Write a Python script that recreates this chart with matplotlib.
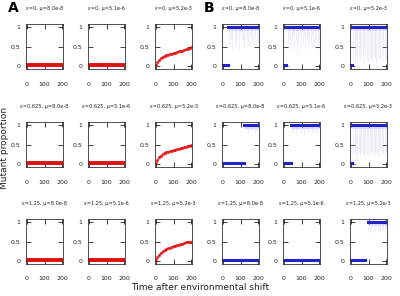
import matplotlib.pyplot as plt
import numpy as np

# titulos de los paneles
epsilons = ["0", "0.625", "1.25"]
mus = ["8.0e-8", "5.1e-6", "5.2e-3"]

# curva roja (mu=5.2e-3), tiempos cada 10
t_red = np.arange(0, 201, 10)
red_curves = {
    "0": [0.02, 0.10, 0.15, 0.20, 0.24, 0.26, 0.28, 0.30, 0.31, 0.32, 0.34,
          0.35, 0.36, 0.38, 0.39, 0.40, 0.42, 0.43, 0.44, 0.46, 0.48],
    "0.625": [0.02, 0.12, 0.18, 0.22, 0.26, 0.30, 0.31, 0.32, 0.33, 0.35, 0.36,
              0.37, 0.38, 0.40, 0.41, 0.42, 0.43, 0.45, 0.46, 0.47, 0.49],
    "1.25": [0.02, 0.10, 0.16, 0.21, 0.25, 0.28, 0.31, 0.33, 0.35, 0.37, 0.38,
             0.40, 0.41, 0.42, 0.44, 0.45, 0.46, 0.48, 0.49, 0.50, 0.50],
}
red_spread = [0.02, 0.05, 0.06, 0.06, 0.05, 0.05, 0.05, 0.04, 0.04, 0.04, 0.04,
              0.04, 0.04, 0.04, 0.04, 0.04, 0.04, 0.04, 0.04, 0.04, 0.04]
red_flat = 0.02

# paneles azules: momento del cambio 0 -> 1 (None = sin cambio)
blue_switch = {
    ("0", "8.0e-8"): (30, 32), ("0", "5.1e-6"): (12, 14), ("0", "5.2e-3"): (6, 8),
    ("0.625", "8.0e-8"): (118, 122), ("0.625", "5.1e-6"): (40, 42), ("0.625", "5.2e-3"): (6, 8),
    ("1.25", "8.0e-8"): (200, None), ("1.25", "5.1e-6"): (200, None), ("1.25", "5.2e-3"): (80, 95),
}
# caidas tenues de replicas
dip_t = [14, 22, 30, 37, 45, 52, 60, 68, 75, 83, 91, 98, 106, 113, 121, 129,
         136, 144, 151, 159, 167, 174, 182, 190, 197]
blue_dips = {
    ("0", "8.0e-8"): [1, 1, 1, 0.55, 0.7, 0.4, 0.8, 0.6, 0.5, 0.75, 0.45, 0.85, 0.6,
                      0.7, 0.5, 0.8, 0.65, 0.55, 0.8, 0.6, 0.7, 0.5, 0.75, 0.65, 0.6],
    ("0", "5.1e-6"): [1, 0.5, 0.7, 0.4, 0.6, 0.8, 0.5, 0.7, 0.3, 0.6, 0.75, 0.45, 0.6,
                      0.8, 0.5, 0.65, 0.4, 0.7, 0.55, 0.8, 0.5, 0.6, 0.7, 0.45, 0.6],
    ("0", "5.2e-3"): [0.2, 0.1, 0.3, 0.15, 0.2, 0.1, 0.25, 0.1, 0.3, 0.15, 0.2, 0.1, 0.2,
                      0.15, 0.1, 0.3, 0.2, 0.1, 0.25, 0.15, 0.2, 0.1, 0.3, 0.2, 0.15],
    ("0.625", "8.0e-8"): [1, 1, 1, 1, 1, 1, 1, 1, 1, 1, 1, 1, 1, 1, 1, 0.85,
                          0.9, 0.8, 0.9, 0.85, 0.9, 0.8, 0.9, 0.85, 0.9],
    ("0.625", "5.1e-6"): [1, 1, 1, 1, 0.8, 0.85, 0.9, 0.75, 0.85, 0.9, 0.8, 0.85, 0.9,
                          0.75, 0.85, 0.9, 0.8, 0.85, 0.9, 0.8, 0.85, 0.9, 0.8, 0.85, 0.9],
    ("0.625", "5.2e-3"): [0.2, 0.3, 0.15, 0.25, 0.3, 0.2, 0.35, 0.25, 0.2, 0.3, 0.25, 0.2, 0.3,
                          0.25, 0.35, 0.2, 0.3, 0.25, 0.2, 0.3, 0.35, 0.25, 0.3, 0.2, 0.3],
    ("1.25", "8.0e-8"): None,
    ("1.25", "5.1e-6"): None,
    ("1.25", "5.2e-3"): [1, 1, 1, 1, 1, 1, 1, 1, 1, 1, 1, 0.8, 0.75, 0.8, 0.85, 0.8,
                         0.75, 0.85, 0.8, 0.8, 0.75, 0.85, 0.8, 0.8, 0.85],
}

red = "#e01010"
pink = "#f6a8a8"
blue = "#2222cc"
light_blue = "#b0b0f4"

fig = plt.figure(figsize=(4, 2.96), dpi=100)

col_left = [26, 88, 155, 222, 283, 350]
row_top = [24, 122, 219]
w, h = 37, 45


def style_axis(ax, titulo):
    ax.set_xlim(-4, 204)
    ax.set_ylim(-0.07, 1.08)
    ax.set_xticks([0, 100, 200])
    ax.set_yticks([0, 0.5, 1])
    ax.set_yticklabels(["0", "0.5", "1"])
    ax.tick_params(direction="in", length=3.5, width=0.6, labelsize=4.5,
                   top=True, right=True, colors="#222222")
    ax.tick_params(axis="x", pad=9)
    ax.tick_params(axis="y", pad=4)
    for s in ax.spines.values():
        s.set_linewidth(0.6)
        s.set_color("#333333")
    ax.set_title(titulo, fontsize=3.6, pad=10, color="#222222")


for i, eps in enumerate(epsilons):
    for j in range(6):
        mu = mus[j % 3]
        left = col_left[j] / 400
        bottom = 1 - (row_top[i] + h) / 296
        ax = fig.add_axes([left, bottom, w / 400, h / 296])
        style_axis(ax, f"ε={eps}, μ={mu}")
        if j < 3:
            # panel A (rojo)
            if mu == "5.2e-3":
                y = np.array(red_curves[eps])
                sp = np.array(red_spread)
                ax.fill_between(t_red, y - sp, y + sp, color=pink, alpha=0.7, lw=0)
                ax.plot(t_red, y, color=red, lw=0.7, marker="s", ms=1.0, alpha=0.7)
            else:
                ax.plot([0, 200], [red_flat, red_flat], color=red, lw=2.8)
        else:
            # panel B (azul)
            t_off, t_on = blue_switch[(eps, mu)]
            dips = blue_dips[(eps, mu)]
            if dips is not None:
                for tt, lo in zip(dip_t, dips):
                    if tt >= t_on and lo < 1:
                        ax.plot([tt, tt], [lo, 1], color=light_blue, lw=0.4, alpha=0.35)
                ax.fill_between([t_on, 200], 0.9, 1.0, color=light_blue, alpha=0.3, lw=0)
            ax.plot([0, t_off], [0.02, 0.02], color=blue, lw=2.2)
            if t_on is not None:
                ax.plot([t_on, 200], [1.0, 1.0], color=blue, lw=2.2)

fig.text(0.02, 0.995, "A", fontsize=10, fontweight="bold", va="top")
fig.text(0.51, 0.995, "B", fontsize=10, fontweight="bold", va="top")
fig.text(0.012, 0.5, "Mutant proportion", rotation=90, fontsize=6.5,
         va="center", ha="center", color="#222222")
fig.text(0.5, 0.03, "Time after environmental shift", fontsize=6.5,
         ha="center", va="center", color="#222222")

fig.savefig("out.png", dpi=100)
